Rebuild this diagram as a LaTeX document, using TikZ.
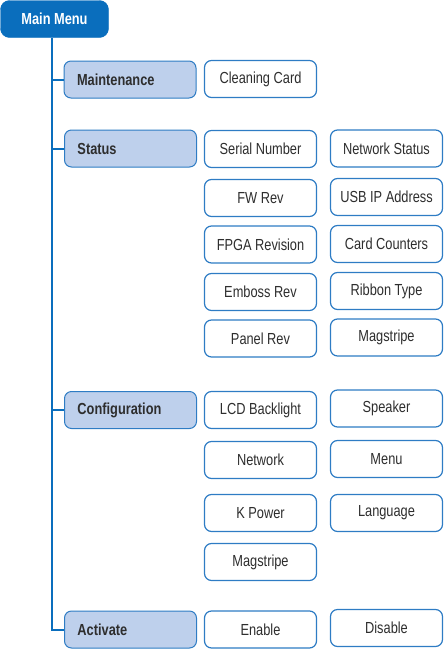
\documentclass[tikz,border=0pt]{standalone}
\usepackage{fontspec}
\setmainfont{Liberation Sans}[FakeStretch=0.8]
\definecolor{mainblue}{HTML}{0A6EBD}
\definecolor{edgeblue}{HTML}{2E7CC4}
\definecolor{parentfill}{HTML}{BED0EC}
\definecolor{txtgray}{HTML}{2E2E2E}
\begin{document}
\begin{tikzpicture}[x=1pt,y=-1pt,
  every node/.style={font=\fontsize{16}{19}\selectfont},
  mainbox/.style={fill=mainblue,draw=mainblue,rounded corners=9pt,minimum width=108pt,minimum height=37pt,inner sep=0pt,text=white,font=\fontsize{16}{19}\selectfont\bfseries},
  parentbox/.style={fill=parentfill,draw=edgeblue,line width=1pt,rounded corners=7pt,minimum width=132pt,minimum height=37pt,inner sep=0pt,inner xsep=13pt,text width=106pt,align=left,text=txtgray,font=\fontsize{16}{19}\selectfont\bfseries},
  childbox/.style={draw=edgeblue,line width=1.2pt,rounded corners=7pt,minimum width=112pt,minimum height=37pt,inner sep=0pt,text=txtgray,fill=white},
  conn/.style={draw=mainblue,line width=2pt}]
\useasboundingbox (0,0) rectangle (444,649);
% main
\node[mainbox] (main) at (54.5,19) {Main Menu};
\coordinate (trunk) at (52,38);
% parents
\node[parentbox] (maint) at (130,79.5) {Maintenance};
\node[parentbox] (status) at (130.5,148.5) {Status};
\node[parentbox] (config) at (130.5,410) {Configuration};
\node[parentbox] (act) at (130.5,629.5) {Activate};
% connectors
\draw[conn] (trunk) |- (act.west);
\draw[conn] (trunk |- maint.west) -- (maint.west);
\draw[conn] (trunk |- status.west) -- (status.west);
\draw[conn] (trunk |- config.west) -- (config.west);
% column 1
\node[childbox] (clean) at (260.5,79) {Cleaning Card};
\node[childbox] (serial) at (260.5,149) {Serial Number};
\node[childbox] (fwrev) at (260.5,198) {FW Rev};
\node[childbox] (fpga) at (260.5,244.5) {FPGA Revision};
\node[childbox] (emboss) at (260.5,292) {Emboss Rev};
\node[childbox] (panel) at (260.5,338.5) {Panel Rev};
\node[childbox] (lcd) at (260.5,410) {LCD Backlight};
\node[childbox] (network) at (260.5,460) {Network};
\node[childbox] (kpower) at (260.5,513) {K Power};
\node[childbox] (magcfg) at (260.5,562) {Magstripe};
\node[childbox] (enable) at (260.5,629.5) {Enable};
% column 2
\node[childbox] (netstat) at (386.5,148.5) {Network Status};
\node[childbox] (usbip) at (386.5,197) {USB IP Address};
\node[childbox] (counters) at (386.5,244) {Card Counters};
\node[childbox] (ribbon) at (386.5,291) {Ribbon Type};
\node[childbox] (magstat) at (386.5,337.5) {Magstripe};
\node[childbox] (speaker) at (386.5,408.5) {Speaker};
\node[childbox] (menu) at (386.5,459) {Menu};
\node[childbox] (lang) at (386.5,513) {Language};
\node[childbox] (disable) at (386.5,628) {Disable};
\end{tikzpicture}
\end{document}
